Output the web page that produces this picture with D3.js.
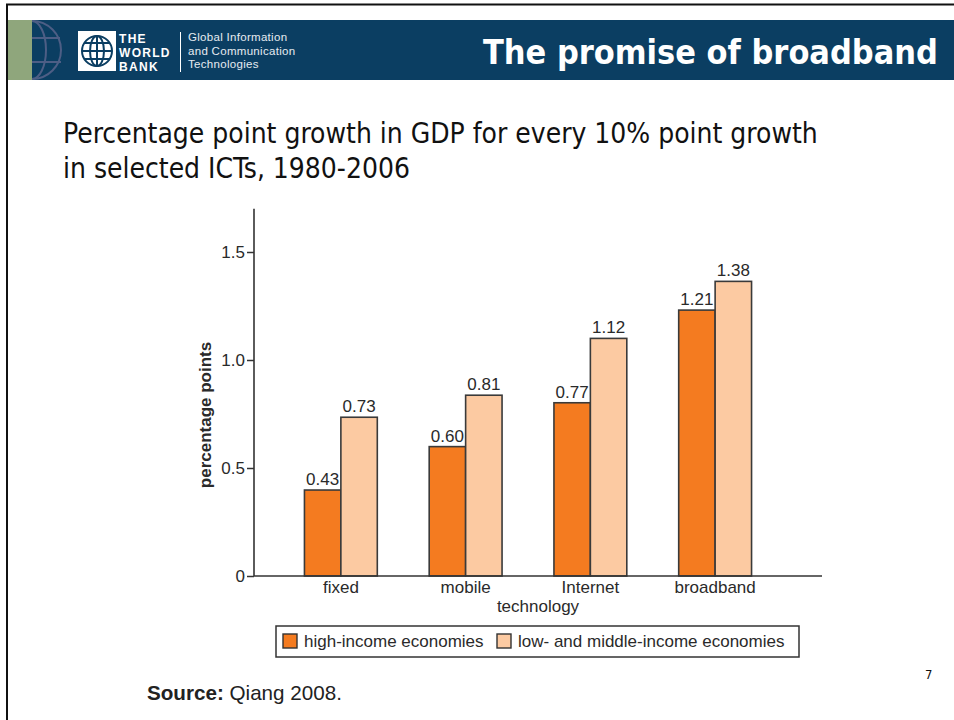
<!DOCTYPE html>
<html>
<head>
<meta charset="utf-8">
<script src="https://cdn.jsdelivr.net/npm/d3@7"></script>
<style>
  html, body { margin: 0; padding: 0; background: #fff; }
  svg { display: block; }
</style>
</head>
<body>
<svg id="chart" width="954" height="720"></svg>
<script>
// ---- data ----
const categories = ["fixed", "mobile", "Internet", "broadband"];
const seriesNames = ["high-income economies", "low- and middle-income economies"];
// bar heights as drawn in the picture
const highIncome = [0.398, 0.599, 0.802, 1.231];
const lowMiddleIncome = [0.735, 0.837, 1.10, 1.364];
// value labels as printed above the bars
const highIncomeLabels = ["0.43", "0.60", "0.77", "1.21"];
const lowMiddleIncomeLabels = ["0.73", "0.81", "1.12", "1.38"];
const yTicks = [0, 0.5, 1.0, 1.5];
const yTickLabels = ["0", "0.5", "1.0", "1.5"];
const seriesColors = ["#f47b20", "#fccaa2"];

const svg = d3.select("#chart");
const W = 954, H = 720;
svg.append("rect").attr("width", W).attr("height", H).attr("fill", "#fff");

function fitFont(sel, target, start) {
  sel.style("font-size", start + "px");
  const w = sel.node().getComputedTextLength();
  const s = start * target / w;
  sel.style("font-size", s + "px");
  return s;
}

// ---- slide frame ----
svg.append("line").attr("x1", 6).attr("x2", W).attr("y1", 4.5).attr("y2", 4.5)
  .attr("stroke", "#111").attr("stroke-width", 2);
svg.append("line").attr("x1", 7).attr("x2", 7).attr("y1", 4).attr("y2", H)
  .attr("stroke", "#111").attr("stroke-width", 2);

// ---- header band ----
const hdr = svg.append("g");
hdr.append("rect").attr("x", 8).attr("y", 20).attr("width", W - 8).attr("height", 60).attr("fill", "#0b3e62");
hdr.append("rect").attr("x", 8).attr("y", 20).attr("width", 24).attr("height", 60).attr("fill", "#8fa67c");
const clip = svg.append("defs").append("clipPath").attr("id", "bandclip");
clip.append("rect").attr("x", 32).attr("y", 20).attr("width", 60).attr("height", 60);
const deco = hdr.append("g").attr("clip-path", "url(#bandclip)")
  .attr("fill", "none").attr("stroke", "#4d5e85").attr("stroke-width", 2);
deco.append("circle").attr("cx", 32).attr("cy", 50).attr("r", 29);
deco.append("ellipse").attr("cx", 32).attr("cy", 50).attr("rx", 14).attr("ry", 29);
deco.append("line").attr("x1", 30).attr("x2", 60).attr("y1", 38).attr("y2", 38);
deco.append("line").attr("x1", 30).attr("x2", 61).attr("y1", 62).attr("y2", 62);

// logo
hdr.append("rect").attr("x", 78).attr("y", 31).attr("width", 38).attr("height", 40).attr("fill", "#fff");
const lg = hdr.append("g").attr("fill", "none").attr("stroke", "#0b3e62").attr("stroke-width", 2);
lg.append("circle").attr("cx", 97).attr("cy", 51).attr("r", 15);
lg.append("ellipse").attr("cx", 97).attr("cy", 51).attr("rx", 7).attr("ry", 15);
lg.append("line").attr("x1", 97).attr("x2", 97).attr("y1", 36).attr("y2", 66);
lg.append("line").attr("x1", 82).attr("x2", 112).attr("y1", 51).attr("y2", 51);
lg.append("line").attr("x1", 84).attr("x2", 110).attr("y1", 43).attr("y2", 43);
lg.append("line").attr("x1", 84).attr("x2", 110).attr("y1", 59).attr("y2", 59);
const wbLines = ["THE", "WORLD", "BANK"];
hdr.selectAll("text.wb").data(wbLines).join("text").attr("class", "wb")
  .attr("x", 119).attr("y", (d, i) => 43 + i * 14)
  .attr("fill", "#fff").style("font-family", "'Liberation Sans', Arial, sans-serif")
  .style("font-weight", "900").style("font-size", "12px").style("letter-spacing", "1.3px").text(d => d);
hdr.append("line").attr("x1", 180.5).attr("x2", 180.5).attr("y1", 32).attr("y2", 72)
  .attr("stroke", "#fff").attr("stroke-width", 1);
const gicLines = ["Global Information", "and Communication", "Technologies"];
hdr.selectAll("text.gic").data(gicLines).join("text").attr("class", "gic")
  .attr("x", 188).attr("y", (d, i) => 41 + i * 13.5)
  .attr("fill", "#e6ebf1").style("font-family", "'Liberation Sans', Arial, sans-serif")
  .style("font-size", "11.5px").style("letter-spacing", "0.3px").text(d => d);
const htitle = hdr.append("text").attr("x", 483).attr("y", 64).attr("fill", "#fff")
  .style("font-family", "'DejaVu Sans Condensed', 'DejaVu Sans', sans-serif")
  .style("font-weight", "bold").text("The promise of broadband");
fitFont(htitle, 455, 34);

// ---- slide subtitle ----
const subLines = ["Percentage point growth in GDP for every 10% point growth", "in selected ICTs, 1980-2006"];
const sub = svg.selectAll("text.sub").data(subLines).join("text").attr("class", "sub")
  .attr("x", 63).attr("y", (d, i) => 143 + i * 35).attr("fill", "#111")
  .style("font-family", "'DejaVu Sans Condensed', 'DejaVu Sans', sans-serif")
  .text(d => d);
const subSize = fitFont(d3.select(sub.nodes()[0]), 755, 24);
sub.style("font-size", subSize + "px");

// ---- chart ----
const chartFont = "'Liberation Sans', Arial, Helvetica, sans-serif";
const axisLeftX = 254, axisRightX = 822;
const y = d3.scaleLinear().domain([0, 1.7]).range([576, 208.8]);
const x0 = d3.scaleBand().domain(categories).range([278.5, 777.5]).paddingInner(0.416).paddingOuter(0.208);
const x1 = d3.scaleBand().domain(seriesNames).range([0, x0.bandwidth()]);

const rows = categories.map((c, i) => ({
  cat: c,
  vals: [
    { s: seriesNames[0], v: highIncome[i], lab: highIncomeLabels[i], col: seriesColors[0] },
    { s: seriesNames[1], v: lowMiddleIncome[i], lab: lowMiddleIncomeLabels[i], col: seriesColors[1] }
  ]
}));

const gGroups = svg.append("g").selectAll("g").data(rows).join("g")
  .attr("transform", d => `translate(${x0(d.cat)},0)`);
gGroups.selectAll("rect").data(d => d.vals).join("rect")
  .attr("x", d => x1(d.s)).attr("width", x1.bandwidth())
  .attr("y", d => y(d.v)).attr("height", d => y(0) - y(d.v))
  .attr("fill", d => d.col).attr("stroke", "#3a3a3a").attr("stroke-width", 1.6);
gGroups.selectAll("text").data(d => d.vals).join("text")
  .attr("x", d => x1(d.s) + x1.bandwidth() / 2).attr("y", d => y(d.v) - 5)
  .attr("text-anchor", "middle").attr("fill", "#2a2a2a")
  .style("font-family", chartFont).style("font-size", "17px").text(d => d.lab);

// y axis
const yAxis = svg.append("g").attr("transform", `translate(${axisLeftX},0)`)
  .call(d3.axisLeft(y).tickValues(yTicks).tickFormat((d, i) => yTickLabels[i]).tickSize(7).tickPadding(2));
yAxis.select(".domain").attr("stroke", "#333").attr("stroke-width", 1.6).attr("d", `M0,${y(1.7)}V${y(0)}`);
yAxis.selectAll(".tick line").attr("stroke", "#333").attr("stroke-width", 1.5);
yAxis.selectAll(".tick text").attr("fill", "#2a2a2a").style("font-family", chartFont).style("font-size", "17px");

// x axis
svg.append("line").attr("x1", axisLeftX).attr("x2", axisRightX).attr("y1", y(0)).attr("y2", y(0))
  .attr("stroke", "#333").attr("stroke-width", 1.6);
const xAxis = svg.append("g").attr("transform", `translate(0,${y(0)})`)
  .call(d3.axisBottom(x0).tickSize(0).tickPadding(5));
xAxis.select(".domain").remove();
xAxis.selectAll(".tick text").attr("fill", "#2a2a2a").style("font-family", chartFont).style("font-size", "17px");

svg.append("text").attr("x", 538).attr("y", 612).attr("text-anchor", "middle").attr("fill", "#2a2a2a")
  .style("font-family", chartFont).style("font-size", "17px").text("technology");

svg.append("text").attr("transform", "translate(211,415) rotate(-90)").attr("text-anchor", "middle")
  .attr("fill", "#2a2a2a").style("font-family", chartFont).style("font-weight", "bold")
  .style("font-size", "17px").text("percentage points");

// legend
const leg = svg.append("g");
leg.append("rect").attr("x", 276).attr("y", 626).attr("width", 523).attr("height", 31)
  .attr("fill", "#fff").attr("stroke", "#333").attr("stroke-width", 1.5);
const legX = [283, 497];
seriesNames.forEach((s, i) => {
  leg.append("rect").attr("x", legX[i]).attr("y", 634).attr("width", 14).attr("height", 14)
    .attr("fill", seriesColors[i]).attr("stroke", "#333").attr("stroke-width", 1.4);
  leg.append("text").attr("x", legX[i] + 21).attr("y", 647).attr("fill", "#2a2a2a")
    .style("font-family", chartFont).style("font-size", "17px").text(s);
});

// page number & source
svg.append("text").attr("x", 925).attr("y", 679).attr("fill", "#111")
  .style("font-family", "'DejaVu Sans Condensed', 'DejaVu Sans', sans-serif").style("font-size", "13px").text("7");
const src = svg.append("text").attr("x", 147).attr("y", 700).attr("fill", "#222")
  .style("font-family", chartFont);
src.append("tspan").style("font-weight", "bold").text("Source:");
src.append("tspan").text(" Qiang 2008.");
fitFont(src, 195, 18);
</script>
</body>
</html>
